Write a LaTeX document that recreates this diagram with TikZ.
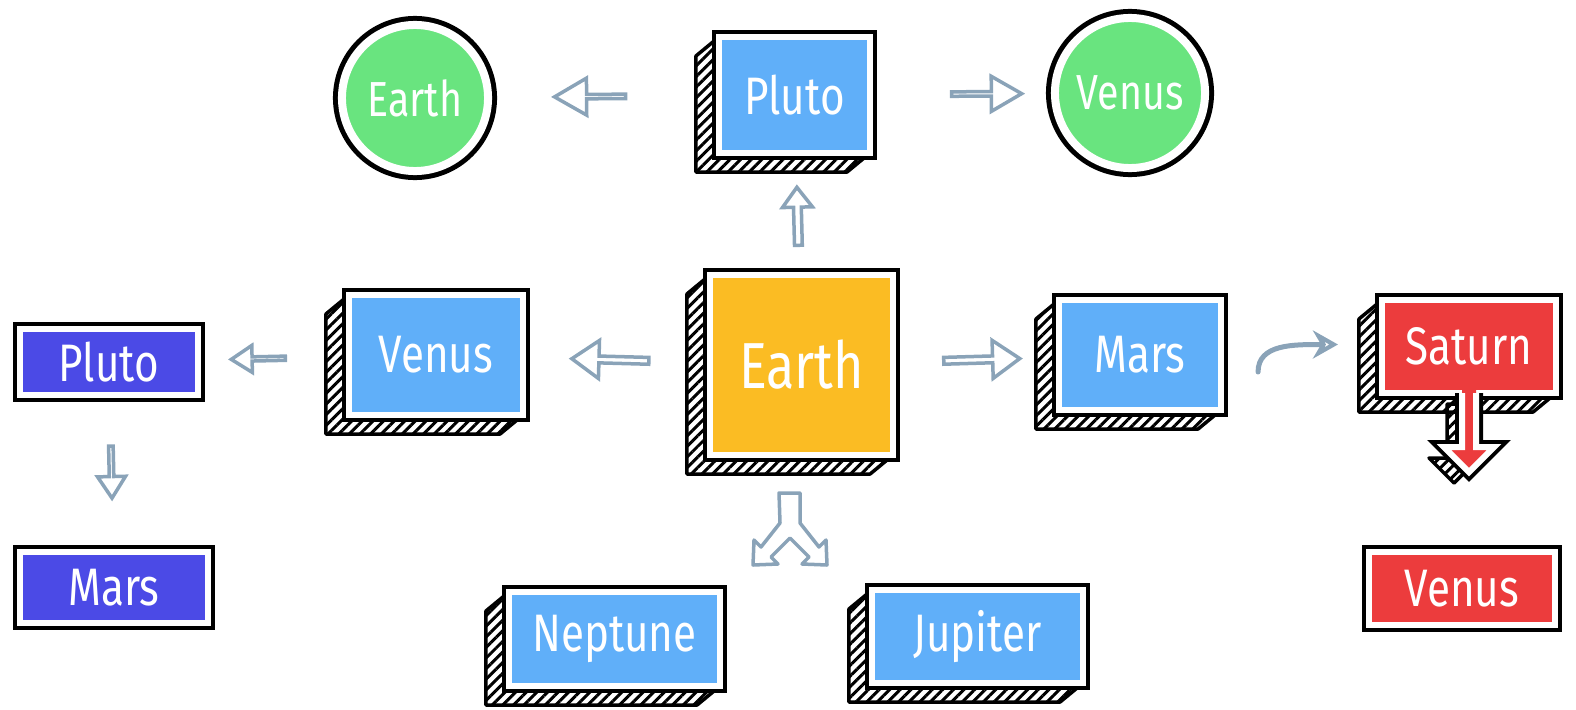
\documentclass[tikz,border=0pt]{standalone}
\usepackage{fontspec}
\setmainfont{Fira Sans}[FakeStretch=0.8]
\usetikzlibrary{shapes.arrows,patterns.meta,backgrounds,arrows.meta}

\definecolor{skyblue}{HTML}{60AFF9}
\definecolor{amber}{HTML}{FBBC23}
\definecolor{leaf}{HTML}{69E47F}
\definecolor{tomato}{HTML}{EC3C3D}
\definecolor{indigo}{HTML}{4B4AE6}
\definecolor{slate}{HTML}{8AA3B8}

\tikzset{
  face/.style={rectangle, fill=#1, draw=white, line width=0.6mm, preaction={draw=black, line width=1.4mm}, outer sep=0pt, inner sep=0pt, text=white, font=\fontsize{15}{18}\selectfont},
  disc/.style={circle, fill=leaf, draw=white, line width=0.8mm, preaction={draw=black, line width=1.8mm}, outer sep=0pt, inner sep=0pt, text=white, font=\fontsize{14}{17}\selectfont},
  hatch/.style={pattern={Lines[angle=45,distance=0.75mm,line width=0.3mm]}, draw=black, line width=0.35mm, line join=round},
  fat/.style={single arrow, draw=slate, line width=0.35mm, inner sep=0pt, outer sep=0pt, single arrow tip angle=66, sloped, allow upside down},
  swoosh/.style={draw=slate, line width=0.5mm, line cap=round, -{Stealth[open, length=2.5mm, width=2.8mm]}}
}
\newcommand\extrude[1]{\path[hatch] (#1.north west) -- ([shift={(-23,19)}]#1.north west) -- ([shift={(-23,19)}]#1.south west) -- ([shift={(-23,19)}]#1.south east) -- (#1.south east) -- (#1.south west) -- cycle;}

\begin{document}
\begin{tikzpicture}[x=0.01cm,y=-0.01cm]
\useasboundingbox (0,0) rectangle (1576,709);
\node[face=amber, minimum width=18.3mm, minimum height=18mm, font=\fontsize{18.5}{22}\selectfont] (earth) at (801.5,365) {Earth};
\node[face=skyblue, minimum width=15.1mm, minimum height=11.6mm] (plutot) at (794.5,95) {Pluto};
\node[face=skyblue, minimum width=17.4mm, minimum height=12mm] (venusm) at (436,355) {Venus};
\node[face=skyblue, minimum width=16.2mm, minimum height=11mm] (marsm) at (1140,355) {Mars};
\node[face=tomato, minimum width=17.4mm, minimum height=9.3mm] (saturn) at (1469,346.5) {Saturn};
\node[face=skyblue, minimum width=21.1mm, minimum height=9.4mm] (neptune) at (614.5,639) {Neptune};
\node[face=skyblue, minimum width=21.1mm, minimum height=9.3mm] (jupiter) at (977.5,636.5) {Jupiter};
\node[face=indigo, minimum width=17.8mm, minimum height=6.6mm] (plutol) at (109,362) {Pluto};
\node[face=indigo, minimum width=18.8mm, minimum height=7.1mm] (marsl) at (114,587.5) {Mars};
\node[face=tomato, minimum width=18.6mm, minimum height=7.3mm] (venusr) at (1462,588.5) {Venus};
\node[disc, minimum size=14.6mm] (earthc) at (415,98) {Earth};
\node[disc, minimum size=15mm] (venusc) at (1130,93) {Venus};

\begin{scope}[on background layer]
\foreach \n in {earth,plutot,venusm,marsm,saturn,neptune,jupiter}
  \extrude{\n};
\path[hatch, shift={(saturn.south)}, shift={(-15,11)}] (-7,0) -- (-7,54) -- (-25,54) -- (0,79) -- (25,54) -- (7,54) -- (7,0) -- cycle;
\end{scope}

\begin{scope}[shift={(saturn.south)}]
\draw[black, line width=1.4mm] (-7,0) -- (-7,54) -- (-25,54) -- (0,79) -- (25,54) -- (7,54) -- (7,0);
\fill[tomato] (-7,-6) -- (-7,54) -- (-25,54) -- (0,79) -- (25,54) -- (7,54) -- (7,-6) -- cycle;
\draw[white, line width=0.6mm] (-7,0) -- (-7,54) -- (-25,54) -- (0,79) -- (25,54) -- (7,54) -- (7,0);
\end{scope}

\path (earth) -- node[fat, pos=.52, minimum height=7.7mm, minimum width=3.8mm, single arrow head extend=0.8mm, single arrow tip angle=70] {} (venusm);
\path (earth) -- node[fat, pos=.52, minimum height=7.6mm, minimum width=3.8mm, single arrow head extend=0.8mm, single arrow tip angle=70] {} (marsm);
\path (earth) -- node[fat, pos=.46, minimum height=5.8mm, minimum width=3mm, single arrow head extend=0.5mm, single arrow tip angle=74] {} (plutot);
\path (plutot) -- node[fat, pos=.55, minimum height=7.1mm, minimum width=3.7mm, single arrow head extend=1.3mm, single arrow tip angle=60] {} (earthc);
\path (plutot) -- node[fat, pos=.62, minimum height=7mm, minimum width=3.5mm, single arrow head extend=1.2mm, single arrow tip angle=60] {} (venusc);
\path (venusm) -- node[fat, pos=.59, minimum height=5.4mm, minimum width=2.7mm, single arrow head extend=0.95mm] {} (plutol);
\path (plutol) -- node[fat, pos=.48, minimum height=5.2mm, minimum width=2.8mm, single arrow head extend=0.9mm] {} (marsl);
\draw[draw=slate, line width=0.35mm, line join=round] (779,493) -- (800,493) -- (800,523) -- (819,547) -- (826,540) -- (827,565) -- (802,564) -- (809,557) -- (790,538) -- (771,557) -- (778,564) -- (753,565) -- (754,540) -- (761,547) -- (780,523) -- cycle;
\draw[swoosh] ([shift={(37,17)}]marsm.east) .. controls +(0,-28) and +(-45,0) .. ([shift={(-44,-2)}]saturn.west);
\end{tikzpicture}
\end{document}
